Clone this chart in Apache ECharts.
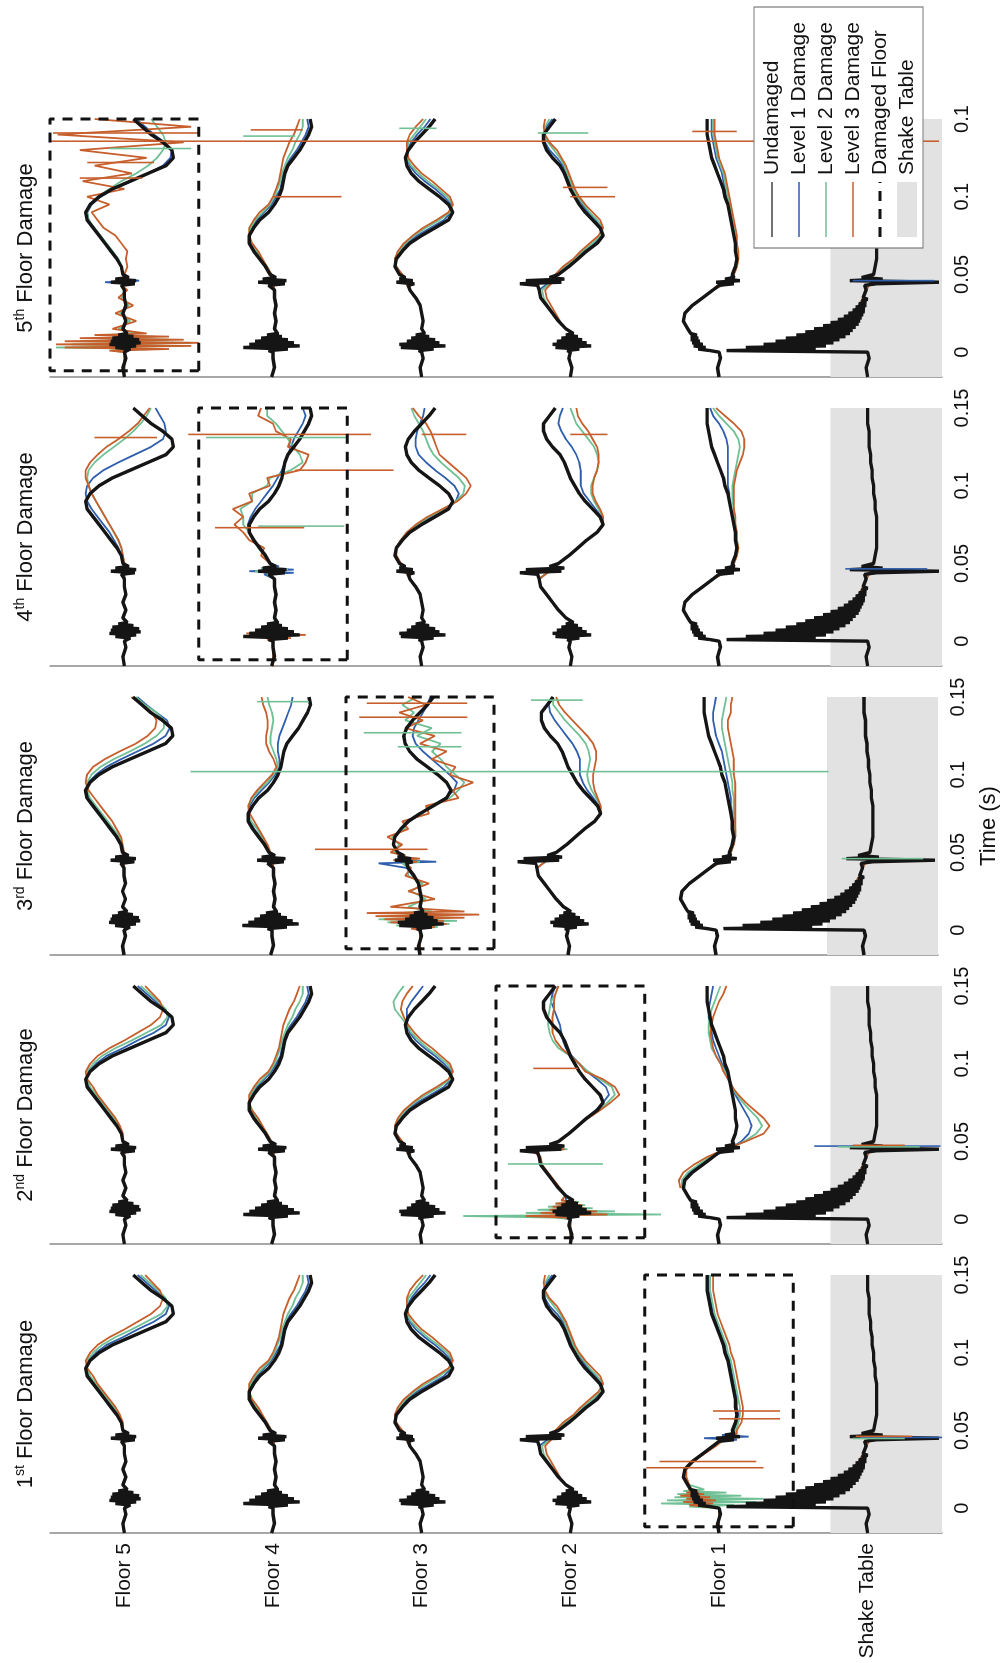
<!DOCTYPE html>
<html>
<head>
<meta charset="utf-8">
<script src="https://cdn.jsdelivr.net/npm/echarts@6/dist/echarts.min.js"></script>
<style>
html, body { margin: 0; padding: 0; overflow: hidden; background: #ffffff; width: 1005px; height: 1663px; }
/* the figure is laid out in landscape and turned a quarter turn counter-clockwise */
#frame { position: absolute; left: 0; top: 0; width: 1663px; height: 1005px;
         transform-origin: 0 0; transform: translateY(1663px) rotate(-90deg); }
</style>
</head>
<body>
<div id="frame"></div>
<script>
// ---- sample times (s): 1 ms steps around the impact bursts, 5 ms elsewhere ----
const timeFull = [-0.016,-0.01,-0.004,0,0.001,0.002,0.003,0.004,0.005,0.006,0.007,0.008,0.009,0.01,0.011,0.012,0.015,0.02,0.025,0.03,0.035,0.04,0.043,0.044,0.045,0.046,0.047,0.048,0.05,0.055,0.06,0.065,0.07,0.075,0.08,0.085,0.09,0.095,0.1,0.105,0.11,0.115,0.12,0.125,0.13,0.135,0.14,0.145,0.15];
const timeLate = [0.02,0.025,0.03,0.035,0.04,0.045,0.05,0.055,0.06,0.065,0.07,0.075,0.08,0.085,0.09,0.095,0.1,0.105,0.11,0.115,0.12,0.125,0.13,0.135,0.14,0.145,0.15];
// shake-table channel: 1 ms steps through the whole impact decay
const timeShake = [-0.016,-0.01,-0.004,0,
  0.001,0.002,0.003,0.004,0.005,0.006,0.007,0.008,0.009,0.01,0.011,0.012,0.013,0.014,0.015,0.016,0.017,0.018,
  0.019,0.02,0.021,0.022,0.023,0.024,0.025,0.026,0.027,0.028,0.029,0.03,0.031,0.032,0.033,0.034,0.035,
  0.04,0.043,0.044,0.045,0.046,0.047,0.048,
  0.05,0.055,0.06,0.065,0.07,0.075,0.08,0.085,0.09,0.095,0.1,0.105,0.11,0.115,0.12,0.125,0.13,0.135,0.14,0.145,0.15];

// ---- channels (top to bottom) and their offsets on the stacked axis ----
const floorNames = ['Floor 5','Floor 4','Floor 3','Floor 2','Floor 1','Shake Table'];
const floorOffset = [500,400,300,200,100,0];
const shakeBand = [-50, 25];

// ---- time axis ticks ----
const tickValues = [0, 0.05, 0.1, 0.15];
const tickLabels = [
  ['0','0.05','0.1','0.15'],
  ['0','0.05','0.1','0.15'],
  ['0','0.05','0.1','0.15'],
  ['0','0.05','0.1','0.15'],
  ['0','0.05','0.1','0.1']
];

// ---- panel titles ----
const panelNumber = ['1','2','3','4','5'];
const panelSuffix = ['st','nd','rd','th','th'];
const damagedFloorIndex = [4, 3, 2, 1, 0];     // row of the damaged floor in each panel
const damageBoxTime = [-0.012, 0.15];
const damageBoxHalf = 50;

// ---- undamaged response (% of floor spacing); floors on timeFull, shake table on timeShake ----
const undamaged = [
  [0,1,-1,0, 1,-4,6,-8,10,-11,9,-10,8,-6,4,-2, 1,-1,1,-1,0,0, 2,-7,9,-8,6,-3, 1,2,5,9,13,17,21,25,26,23,17,8,-4,-16,-28,-33,-32,-26,-18,-12,-6],
  [1,-1,0,0, 3,-10,20,-18,16,-14,12,-10,8,-6,4,-3, -1,-2,-1,-2,-1,-1, 3,-8,10,-9,7,-2, 2,5,9,13,16,16,13,9,3,-1,-4,-6,-7,-8,-10,-14,-18,-21,-24,-26,-25],
  [0,1,-1,0, 2,-8,14,-16,15,-12,10,-9,7,-5,4,-2, 0,-1,0,1,4,8, 9,5,17,6,15,11, 15,18,17,13,8,0,-9,-18,-21,-18,-12,-5,2,7,10,11,9,5,0,-5,-9],
  [0,-1,1,0, 2,-6,10,-14,12,-11,9,-8,6,-5,3,-2, 3,8,12,16,20,21, 22,34,6,30,4,14, 8,1,-5,-11,-18,-22,-20,-15,-10,-6,-3,0,2,4,7,12,16,18,18,14,10],
  [0,1,-1,0, 6,14,9,17,11,18,13,19,14,19,15,19, 21,24,23,18,11,4, 0,-10,2,-14,-4,-10, -9,-11,-12,-11,-11,-10,-9,-8,-7,-6,-4,-3,-1,1,3,5,6,7,8,8,8],
  [0,1,-1,0,
   95,35,82,28,70,23,62,19,55,15,48,12,42,10,36,8,30,6,25,5,20,4,16,3,13,2,10,2,8,1,6,1,4,0,3,
   1, 2,-6,-48,12,-10,4,
   -4,-5,-6,-6,-6,-6,-6,-5,-5,-4,-4,-3,-3,-2,-2,-1,-1,-1,0,0,0]
];

// ---- damaged responses: rows Floor 5 .. Shake Table; 27 values = timeLate, 49 values = timeFull ----
const p1Level1 = [
  [-1,1,-1,0,0,0, 1,2,4,8,12,16,20,24,26,24,19,12,1,-9,-20,-28,-30,-27,-21,-15,-9],
  [-2,-1,-2,-1,-1,0, 2,5,8,12,15,16,14,11,6,1,-2,-5,-6,-7,-9,-12,-16,-19,-22,-24,-23],
  [-1,0,1,4,8,11, 14,17,18,14,10,3,-6,-15,-20,-20,-15,-9,-2,4,8,10,10,7,3,-2,-6],
  [8,12,16,20,21,14, 9,3,-4,-9,-16,-21,-21,-17,-12,-8,-5,-2,1,3,5,9,14,17,18,16,12],
  [0,0,0,0, 8,15,8,18,10,19,12,20,14,19,15,19, 21,24,23,18,11,3, 0,-12,10,-20,-2,-10, -10,-12,-13,-12,-12,-11,-10,-9,-8,-7,-5,-4,-2,0,2,4,5,6,7,7,7],
  [17,10,6,3,1,-2, -4,-5,-6,-6,-6,-6,-6,-5,-5,-4,-4,-3,-3,-2,-2,-1,-1,-1,0,0,0]
];
const p1Level2 = [
  [-1,1,-1,0,0,0, 1,2,4,7,11,15,19,23,25,25,21,15,6,-5,-15,-25,-29,-28,-23,-17,-11],
  [-2,-1,-2,-1,-1,0, 1,4,8,11,15,16,15,12,7,2,-1,-3,-5,-6,-8,-10,-13,-15,-18,-20,-20],
  [-1,0,1,4,8,11, 14,17,18,15,11,5,-3,-12,-19,-21,-17,-11,-4,2,7,10,10,9,5,1,-3],
  [8,11,15,18,19,13, 9,4,-3,-8,-15,-20,-22,-18,-13,-9,-5,-2,0,2,4,7,11,15,18,17,14],
  [0,0,0,0, 20,-10,39,-25,35,-30,30,-15,28,-5,24,10, 20,23,22,17,10,3, 0,-8,0,-12,-6,-10, -11,-13,-14,-14,-13,-12,-11,-10,-9,-8,-6,-5,-3,-1,1,3,4,5,6,6,6],
  [17,10,6,3,1,-2, -4,-5,-6,-6,-6,-6,-6,-5,-5,-4,-4,-3,-3,-2,-2,-1,-1,-1,0,0,0]
];
const p1Level3 = [
  [-1,1,-1,0,0,0, 1,1,3,6,10,14,18,21,25,26,23,18,10,0,-9,-18,-24,-26,-24,-19,-14],
  [-2,-1,-2,-1,-1,0, 1,4,7,10,14,16,16,13,9,3,0,-2,-4,-5,-6,-7,-9,-11,-14,-16,-18],
  [-1,0,1,4,8,11, 13,17,18,16,12,6,-1,-10,-18,-21,-19,-13,-7,0,5,9,10,10,8,4,-1],
  [7,10,13,16,17,12, 10,5,-2,-7,-13,-19,-22,-20,-15,-10,-6,-3,-1,1,3,6,9,14,17,18,17],
  [0,0,0,0, 10,20,4,24,2,22,6,26,10,22,14,20, 20,22,22,17,10,2, -2,-8,-4,-12,-8,-12, -12,-15,-16,-16,-15,-14,-13,-12,-11,-10,-8,-7,-5,-3,-1,1,2,3,4,4,4],
  [17,10,6,3,1,-2, -4,-5,-6,-6,-6,-6,-6,-5,-5,-4,-4,-3,-3,-2,-2,-1,-1,-1,0,0,0]
];

const p2Level1 = [
  [-1,1,-1,0,0,0, 1,2,4,8,12,16,20,24,26,24,19,12,1,-9,-20,-28,-30,-27,-21,-15,-9],
  [-2,-1,-2,-1,-1,0, 2,5,8,12,15,16,14,11,6,1,-2,-5,-6,-7,-9,-12,-16,-19,-22,-24,-23],
  [-1,0,1,4,8,11, 14,17,18,14,10,3,-6,-15,-20,-20,-15,-9,-2,4,8,10,10,10,7,3,-1],
  [0,0,0,0, 3,12,-10,14,-12,10,-8,8,-6,6,-3,3, 3,8,12,16,20,21, 22,32,5,28,5,12, 8,1,-5,-11,-17,-22,-26,-24,-18,-11,-6,-1,3,5,6,7,9,11,13,12,10],
  [25,24,20,13,5,-7, -15,-20,-22,-20,-17,-14,-11,-9,-7,-5,-2,0,2,4,5,6,7,7,6,5,4],
  [17,10,6,3,1,-2, -4,-5,-6,-6,-6,-6,-6,-5,-5,-4,-4,-3,-3,-2,-2,-1,-1,-1,0,0,0]
];
const p2Level2 = [
  [-1,1,-1,0,0,0, 1,2,4,7,11,15,19,23,25,25,21,15,6,-5,-15,-25,-29,-28,-23,-17,-11],
  [-2,-1,-2,-1,-1,0, 1,4,8,11,15,16,15,12,7,2,-1,-3,-5,-6,-8,-10,-13,-15,-18,-20,-20],
  [-1,0,1,4,8,11, 14,17,18,15,11,5,-3,-12,-19,-21,-17,-11,-4,2,7,10,14,18,19,16,12],
  [0,0,0,0, 10,72,-61,30,-30,22,-15,15,-10,10,-6,6, 4,8,12,16,20,21, 22,30,2,28,4,12, 8,1,-5,-12,-19,-25,-30,-28,-20,-12,-6,0,8,12,14,15,15,14,13,10,8],
  [25,25,21,14,6,-6, -17,-25,-29,-26,-21,-16,-12,-9,-6,-4,-1,2,5,6,7,7,6,5,3,1,-1],
  [17,10,6,3,1,-2, -4,-5,-6,-6,-6,-6,-6,-5,-5,-4,-4,-3,-3,-2,-2,-1,-1,-1,0,0,0]
];
const p2Level3 = [
  [-1,1,-1,0,0,0, 1,1,3,6,10,14,18,21,25,26,23,18,10,0,-9,-18,-24,-26,-24,-19,-14],
  [-2,-1,-2,-1,-1,0, 1,4,7,10,14,16,16,13,9,3,0,-2,-4,-5,-6,-7,-9,-11,-14,-16,-18],
  [-1,0,1,4,8,11, 13,17,18,16,12,6,-1,-10,-18,-21,-19,-13,-7,0,5,9,12,14,13,10,6],
  [0,0,0,0, 4,30,-25,20,-18,14,-10,12,-8,10,-4,6, 3,7,11,15,19,20, 24,30,4,26,6,12, 7,1,-5,-12,-20,-27,-33,-30,-22,-10,-6,0,6,10,12,12,12,11,11,10,8],
  [26,27,24,17,8,-4, -18,-30,-34,-30,-24,-18,-13,-9,-6,-3,-1,2,4,5,6,5,4,2,0,-3,-5],
  [17,10,6,3,1,-2, -4,-5,-6,-6,-6,-6,-6,-5,-5,-4,-4,-3,-3,-2,-2,-1,-1,-1,0,0,0]
];

const p3Level1 = [
  [-1,1,-1,0,0,0, 1,2,4,8,12,16,20,24,26,24,19,12,2,-9,-20,-28,-31,-29,-22,-15,-9],
  [-2,-1,-2,-1,-1,0, 2,5,8,12,15,16,15,12,7,2,-2,-5,-5,-4,-4,-5,-7,-9,-11,-13,-14],
  [0,0,0,0, 2,-8,12,-14,14,-12,10,-10,8,-6,6,-3, 0,-1,0,1,5,9, 28,-11,16,4,12,10, 15,18,17,13,7,-1,-8,-17,-23,-25,-20,-14,-8,-2,3,5,4,1,-2,-5,-7],
  [8,12,16,20,21,14, 8,1,-5,-11,-18,-22,-21,-17,-13,-10,-8,-8,-8,-6,-3,1,5,9,12,13,11],
  [24,23,18,11,4,-6, -9,-11,-12,-12,-12,-11,-10,-10,-9,-8,-7,-6,-5,-4,-2,0,1,2,2,1,0],
  [17,10,6,3,1,-2, -4,-5,-6,-6,-6,-6,-6,-5,-5,-4,-4,-3,-3,-2,-2,-1,-1,-1,0,0,0]
];
const p3Level2 = [
  [-1,1,-1,0,0,0, 1,2,3,7,11,15,19,23,25,25,22,16,7,-4,-14,-22,-27,-27,-22,-14,-8],
  [-2,-1,-2,-1,-1,0, 2,4,7,10,14,16,16,13,9,3,-1,-4,-3,-1,1,1,0,-1,0,2,3],
  [0,0,0,0, 4,-12,16,-20,22,-25,28,-20,20,-14,14,-8, 8,-4,6,-2,8,8, 12,0,16,2,14,10, 18,14,19,10,10,-2,-6,-20,-26,-30,-24,-18,-14,-8,-14,2,-8,10,4,12,2],
  [8,12,16,20,21,14, 8,1,-5,-11,-18,-22,-22,-19,-16,-14,-13,-14,-15,-14,-12,-8,-3,2,6,10,10],
  [24,23,18,11,4,-6, -10,-12,-13,-13,-12,-12,-12,-12,-11,-11,-10,-9,-8,-7,-6,-5,-4,-4,-5,-6,-7],
  [17,10,6,3,1,-2, -4,-5,-6,-6,-6,-6,-6,-5,-5,-4,-4,-3,-3,-2,-2,-1,-1,-1,0,0,0]
];
const p3Level3 = [
  [-1,1,-1,0,0,0, 0,1,2,5,8,12,16,20,24,26,25,21,13,3,-8,-16,-21,-22,-19,-12,-5],
  [-2,-1,-2,-1,-1,0, 1,3,6,9,12,15,16,14,10,5,0,-3,-1,2,4,4,3,3,4,6,7],
  [0,0,0,0, 6,-10,14,-18,20,-16,24,-30,30,-40,36,-30, 20,-10,8,-6,10,6, 10,2,18,0,14,10, 20,12,22,8,12,-6,-4,-26,-22,-36,-20,-24,-8,-18,0,-10,10,-2,14,-4,8],
  [8,12,16,20,21,14, 8,1,-5,-11,-18,-22,-22,-20,-18,-17,-17,-18,-19,-19,-17,-13,-8,-3,2,6,8],
  [24,23,18,11,4,-6, -10,-12,-13,-13,-13,-13,-13,-13,-13,-13,-12,-12,-12,-11,-10,-9,-8,-8,-10,-10,-11],
  [17,10,6,3,1,-2, -4,-5,-6,-6,-6,-6,-6,-5,-5,-4,-4,-3,-3,-2,-2,-1,-1,-1,0,0,0]
];

const p4Level1 = [
  [-1,1,-1,0,0,0, 1,2,4,7,10,14,18,22,25,26,25,21,14,4,-7,-18,-26,-28,-27,-24,-21],
  [0,0,0,0, 3,-10,16,-18,14,-12,10,-8,6,-5,3,-2, -1,-2,-1,-2,-1,-1, 6,-14,16,-14,8,-4, 2,5,9,13,16,17,15,12,8,4,0,-3,-6,-8,-10,-12,-14,-17,-20,-22,-20],
  [-1,0,1,4,8,11, 15,18,17,14,9,2,-7,-17,-23,-25,-22,-16,-9,-3,2,4,4,3,1,-1,-2],
  [8,12,16,20,21,14, 8,1,-5,-11,-18,-22,-21,-17,-13,-9,-7,-7,-7,-6,-4,-1,3,6,8,7,5],
  [24,23,18,11,4,-6, -9,-11,-12,-11,-11,-10,-9,-8,-7,-7,-6,-6,-6,-6,-6,-6,-5,-3,0,4,6],
  [17,10,6,3,1,-2, -4,-5,-6,-6,-6,-6,-6,-5,-5,-4,-4,-3,-3,-2,-2,-1,-1,-1,0,0,0]
];
const p4Level2 = [
  [-1,1,-1,0,0,0, 0,1,2,4,7,10,13,16,19,22,24,25,24,20,14,7,0,-6,-11,-15,-18],
  [0,0,0,0, 2,-8,14,-16,16,-12,10,-8,6,-4,3,-1, -1,-2,-1,-2,-1,-1, 4,-8,12,-10,8,-2, 2,6,10,12,16,20,20,22,14,14,4,2,-12,-20,-18,-14,-10,-6,-2,4,4],
  [-1,0,1,4,8,11, 15,17,17,14,10,3,-5,-15,-23,-28,-29,-25,-19,-13,-8,-5,-3,-1,2,5,7],
  [8,12,16,20,21,14, 8,1,-5,-11,-18,-22,-22,-19,-16,-14,-14,-16,-18,-19,-18,-16,-12,-8,-4,-2,0],
  [24,23,18,11,4,-6, -10,-12,-13,-12,-12,-11,-10,-10,-9,-9,-9,-10,-11,-12,-13,-14,-13,-10,-5,0,4],
  [17,10,6,3,1,-2, -4,-5,-6,-6,-6,-6,-6,-5,-5,-4,-4,-3,-3,-2,-2,-1,-1,-1,0,0,0]
];
const p4Level3 = [
  [-1,1,-1,0,0,0, 0,1,2,4,7,10,13,16,19,22,24,26,26,23,18,12,4,-3,-9,-13,-17],
  [0,0,0,0, 4,-12,20,-22,18,-14,12,-10,8,-6,4,-2, -1,-2,-1,-2,-1,-1, 3,-6,10,-8,6,-2, 2,8,6,16,20,26,20,27,14,16,2,4,-18,-22,-24,-10,-12,-2,0,10,8],
  [-1,0,1,4,8,11, 14,17,17,14,10,4,-4,-14,-24,-30,-33,-30,-24,-18,-12,-10,-8,-6,-3,2,6],
  [8,12,16,20,21,14, 8,1,-5,-11,-18,-22,-22,-20,-17,-15,-15,-16,-18,-19,-19,-18,-15,-12,-8,-5,-4],
  [24,23,18,11,4,-6, -10,-12,-13,-12,-12,-11,-11,-10,-10,-10,-10,-11,-12,-14,-16,-17,-17,-15,-10,-4,2],
  [17,10,6,3,1,-2, -4,-5,-6,-6,-6,-6,-6,-5,-5,-4,-4,-3,-3,-2,-2,-1,-1,-1,0,0,0]
];

const p5Level1 = [
  [0,0,0,0, 3,-8,10,-10,10,-9,8,-8,6,-5,4,-2, 1,-1,1,-1,0,0, 2,-6,13,-10,6,-2, 1,2,5,9,13,17,21,24,25,22,16,7,-5,-16,-26,-31,-32,-27,-20,-14,-8],
  [-2,-1,-2,-1,-1,0, 2,5,8,12,15,16,14,11,6,1,-2,-5,-6,-7,-9,-12,-16,-19,-22,-24,-23],
  [-1,0,1,4,8,11, 14,17,18,14,10,3,-6,-15,-20,-20,-15,-9,-2,4,8,10,10,7,3,-2,-6],
  [8,12,16,20,21,14, 9,3,-4,-9,-16,-21,-21,-17,-12,-8,-5,-2,1,3,5,9,14,17,18,16,12],
  [24,23,18,11,4,-6, -9,-11,-12,-12,-11,-10,-9,-8,-7,-6,-5,-4,-3,-2,0,2,3,4,5,5,5],
  [17,10,6,3,1,-2, -4,-5,-6,-6,-6,-6,-6,-5,-5,-4,-4,-3,-3,-2,-2,-1,-1,-1,0,0,0]
];
const p5Level2 = [
  [0,0,0,0, 8,-20,46,-40,35,-45,30,-30,20,-20,10,-8, 4,-4,3,-3,2,0, 2,-4,6,-4,4,0, 1,2,4,8,12,16,20,24,25,23,18,10,2,-8,-16,-22,-26,-28,-26,-22,-18],
  [-2,-1,-2,-1,-1,0, 1,4,8,11,15,16,15,12,7,2,-1,-3,-5,-6,-8,-10,-13,-15,-18,-20,-20],
  [-1,0,1,4,8,11, 14,17,18,15,11,5,-3,-12,-19,-21,-17,-11,-4,2,7,10,10,9,5,1,-3],
  [8,11,15,18,19,13, 9,4,-3,-8,-15,-20,-22,-18,-13,-9,-5,-2,0,2,4,7,11,15,18,17,14],
  [24,23,18,11,4,-6, -10,-12,-13,-12,-12,-11,-10,-9,-8,-7,-6,-5,-4,-3,-1,1,2,3,4,4,4],
  [17,10,6,3,1,-2, -4,-5,-6,-6,-6,-6,-6,-5,-5,-4,-4,-3,-3,-2,-2,-1,-1,-1,0,0,0]
];
const p5Level3 = [
  [0,0,0,0, 10,-30,40,-45,46,-50,40,-40,30,-30,20,-15, 8,-8,6,-6,4,-2, 2,-6,8,-6,6,-2, 0,-2,-1,-2,2,6,14,18,22,10,25,0,28,-5,20,-15,30,-40,45,-45,20],
  [-2,-1,-2,-1,-1,0, 1,4,7,10,14,16,16,13,9,3,0,-2,-4,-5,-6,-7,-9,-11,-14,-16,-18],
  [-1,0,1,4,8,11, 13,17,18,16,12,6,-1,-10,-18,-21,-19,-13,-7,0,5,9,10,10,8,4,-1],
  [7,10,13,16,17,12, 10,5,-2,-7,-13,-19,-22,-20,-15,-10,-6,-3,-1,1,3,6,9,14,17,18,17],
  [24,23,18,11,4,-6, -10,-12,-13,-13,-12,-12,-11,-10,-9,-8,-7,-6,-5,-4,-2,0,1,2,3,3,3],
  [17,10,6,3,1,-2, -4,-5,-6,-6,-6,-6,-6,-5,-5,-4,-4,-3,-3,-2,-2,-1,-1,-1,0,0,0]
];

// ---- isolated sensor spikes: panel, damage level, row, time (s), low, high (% of floor spacing) ----
const spikePanel = [0,0,0,0,0,0,0, 1,1,1,1,1, 2,2,2,2,2,2,2,2,2, 3,3,3,3,3,3,3,3,3, 4,4,4, 4,4,4,4,4,4,4,4,4,4,4];
const spikeLevel = [2,2,2,2,0,1,2, 1,2,0,1,2, 2,1,2,2,1,1,1,1,1, 2,2,2,1,1,2,2,2,0, 2,2,0, 2,2,2,1,2,1,2,1,2,1,2];
const spikeRow   = [4,4,4,4,5,5,5, 3,3,5,5,5, 2,2,2,2,2,2,1,3,5, 1,1,1,1,1,0,2,3,5, 0,1,5, 0,0,0,0,1,1,3,3,4,2,3];
const spikeTime  = [0.026,0.030,0.0575,0.0625,0.0455,0.0448,0.0462, 0.0355,0.097,0.047,0.0465,0.0475,
                    0.052,0.102,0.137,0.146,0.127,0.118,0.147,0.148,0.046,
                    0.073,0.11,0.133,0.074,0.131,0.131,0.133,0.133,0.0465,
                    0.1357,0.1,0.046,
                    0.112,0.122,0.141,0.131,0.143,0.139,0.1,0.141,0.142,0.144,0.106];
const spikeLow   = [-30,-25,-41,-41,-50,-25,-30, -22,-5,-49,-35,-25,
                    -5,-276,-32,-32,-28,-28,-25,-10,-40,
                    -21,-81,-66,-48,-50,-22,-30,-25,-40,
                    -548,-46,-45,
                    -12,-20,-50,-45,-20,-15,-30,-12,-12,-10,-25];
const spikeHigh  = [49,40,0,4,5,10,8, 42,25,36,20,10,
                    71,155,41,36,38,15,10,25,15,
                    39,-15,57,10,45,20,0,0,15,
                    50,0,10,
                    30,25,48,10,15,20,0,22,18,15,5];

const panelLevels = [
  [p1Level1, p1Level2, p1Level3],
  [p2Level1, p2Level2, p2Level3],
  [p3Level1, p3Level2, p3Level3],
  [p4Level1, p4Level2, p4Level3],
  [p5Level1, p5Level2, p5Level3]
];

// ---- styling ----
const FONT = '"Liberation Sans", Arial, Helvetica, sans-serif';
const levelNames = ['Level 1 Damage', 'Level 2 Damage', 'Level 3 Damage'];
const levelColors = ['#2f5ead', '#6fc094', '#c65f2c'];
const undamagedColor = '#151515';
const bandColor = '#e2e2e2';
const PANEL_LEFT = 130, PANEL_STEP = 289, PANEL_WIDTH = 258, PANEL_TOP = 50, PANEL_HEIGHT = 892;

const chart = echarts.init(document.getElementById('frame'), null, { renderer: 'canvas', width: 1663, height: 1005 });

function toPoints(values, offset) {
  const times = [timeFull, timeLate, timeShake].find(g => g.length === values.length);
  return values.map((v, i) => [times[i], offset + v]);
}

const grids = [], xAxes = [], yAxes = [], series = [], graphics = [];

for (let p = 0; p < 5; p++) {
  const left = PANEL_LEFT + PANEL_STEP * p;
  grids.push({ left: left, top: PANEL_TOP, width: PANEL_WIDTH, height: PANEL_HEIGHT });

  const xAxis = {
    gridIndex: p, type: 'value', min: -0.016, max: 0.15,
    axisLine: { show: false, onZero: false }, axisTick: { show: false }, splitLine: { show: false },
    axisLabel: {
      customValues: tickValues,
      formatter: (v) => tickLabels[p][tickValues.indexOf(v)],
      fontSize: 20, color: '#111', margin: 10, fontFamily: FONT
    }
  };
  if (p === 2) {
    xAxis.name = 'Time (s)';
    xAxis.nameLocation = 'middle';
    xAxis.nameGap = 40;
    xAxis.nameTextStyle = { fontSize: 22, color: '#111', fontFamily: FONT };
  }
  xAxes.push(xAxis);

  yAxes.push({
    gridIndex: p, type: 'value', min: -50, max: 550,
    axisLine: { show: true, onZero: false, lineStyle: { color: '#8a8a8a', width: 1.5 } },
    axisTick: { show: false }, splitLine: { show: false },
    axisLabel: p === 0 ? {
      customValues: floorOffset,
      formatter: (v) => floorNames[floorOffset.indexOf(v)],
      fontSize: 21, color: '#111', margin: 10, fontFamily: FONT
    } : { show: false }
  });

  // shake-table band
  series.push({
    type: 'line', xAxisIndex: p, yAxisIndex: p, data: [], silent: true, z: 1,
    markArea: { silent: true, itemStyle: { color: bandColor },
      data: [[{ xAxis: -0.016, yAxis: shakeBand[0] }, { xAxis: 0.15, yAxis: shakeBand[1] }]] }
  });

  // damaged-structure traces
  for (let L = 0; L < 3; L++) {
    const rows = panelLevels[p][L];
    rows.forEach((vals, r) => {
      series.push({
        name: levelNames[L], type: 'line', xAxisIndex: p, yAxisIndex: p,
        data: toPoints(vals, floorOffset[r]), showSymbol: false, symbol: 'none', z: 2 + L,
        lineStyle: { color: levelColors[L], width: 1.8 }, silent: true
      });
    });
  }

  // undamaged traces
  undamaged.forEach((vals, r) => {
    series.push({
      name: 'Undamaged', type: 'line', xAxisIndex: p, yAxisIndex: p,
      data: toPoints(vals, floorOffset[r]), showSymbol: false, symbol: 'none', z: 6,
      lineStyle: { color: undamagedColor, width: 3.4 }, silent: true
    });
  });

  // spikes
  for (let L = 0; L < 3; L++) {
    const pts = [];
    for (let k = 0; k < spikeTime.length; k++) {
      if (spikePanel[k] !== p || spikeLevel[k] !== L) continue;
      const off = floorOffset[spikeRow[k]];
      pts.push([spikeTime[k], off + spikeLow[k]], [spikeTime[k], off + spikeHigh[k]], [spikeTime[k], '-']);
    }
    if (pts.length) {
      series.push({
        name: levelNames[L], type: 'line', xAxisIndex: p, yAxisIndex: p, data: pts,
        showSymbol: false, symbol: 'none', connectNulls: false, z: 7,
        lineStyle: { color: levelColors[L], width: 1.6 }, silent: true
      });
    }
  }

  // damaged-floor frame
  const cy = floorOffset[damagedFloorIndex[p]];
  series.push({
    name: 'Damaged Floor', type: 'line', xAxisIndex: p, yAxisIndex: p, clip: false, z: 8,
    data: [[damageBoxTime[0], cy - damageBoxHalf], [damageBoxTime[1], cy - damageBoxHalf],
           [damageBoxTime[1], cy + damageBoxHalf], [damageBoxTime[0], cy + damageBoxHalf],
           [damageBoxTime[0], cy - damageBoxHalf]],
    showSymbol: false, symbol: 'none', silent: true,
    lineStyle: { color: '#111', width: 3, type: [10, 8] }
  });

  // panel title
  graphics.push({
    type: 'text', x: left + PANEL_WIDTH / 2, y: 26, z: 50,
    style: {
      text: '{n|' + panelNumber[p] + '}{s|' + panelSuffix[p] + '}{n| Floor Damage}',
      align: 'center', verticalAlign: 'middle',
      rich: {
        n: { fontSize: 22, fontFamily: FONT, fill: '#111', lineHeight: 26 },
        s: { fontSize: 14, fontFamily: FONT, fill: '#111', verticalAlign: 'top', lineHeight: 26, padding: [0, 0, 10, 0] }
      }
    }
  });
}

// ---- legend ----
const legendLabels = ['Undamaged', 'Level 1 Damage', 'Level 2 Damage', 'Level 3 Damage', 'Damaged Floor', 'Shake Table'];
const legendBox = { x: 1415, y: 754, w: 241, h: 169 };
graphics.push({ type: 'rect', z: 60, shape: { x: legendBox.x, y: legendBox.y, width: legendBox.w, height: legendBox.h },
  style: { fill: '#ffffff', stroke: '#7a7a7a', lineWidth: 1.2 } });
legendLabels.forEach((label, i) => {
  const y = legendBox.y + 18 + i * 27;
  const x0 = legendBox.x + 11, x1 = legendBox.x + 66;
  if (i < 4) {
    const color = i === 0 ? '#444' : levelColors[i - 1];
    graphics.push({ type: 'line', z: 61, shape: { x1: x0, y1: y, x2: x1, y2: y }, style: { stroke: color, lineWidth: 1.3 } });
  } else if (i === 4) {
    graphics.push({ type: 'line', z: 61, shape: { x1: x0, y1: y, x2: x1, y2: y }, style: { stroke: '#111', lineWidth: 3, lineDash: [10, 8] } });
  } else {
    graphics.push({ type: 'rect', z: 61, shape: { x: x0, y: y - 10, width: x1 - x0, height: 20 }, style: { fill: bandColor } });
  }
  graphics.push({ type: 'text', z: 61, x: legendBox.x + 73, y: y,
    style: { text: label, fontSize: 21, fontFamily: FONT, fill: '#111', verticalAlign: 'middle', align: 'left' } });
});

chart.setOption({
  animation: false,
  backgroundColor: '#ffffff',
  grid: grids,
  xAxis: xAxes,
  yAxis: yAxes,
  series: series,
  graphic: graphics
});
</script>
</body>
</html>
